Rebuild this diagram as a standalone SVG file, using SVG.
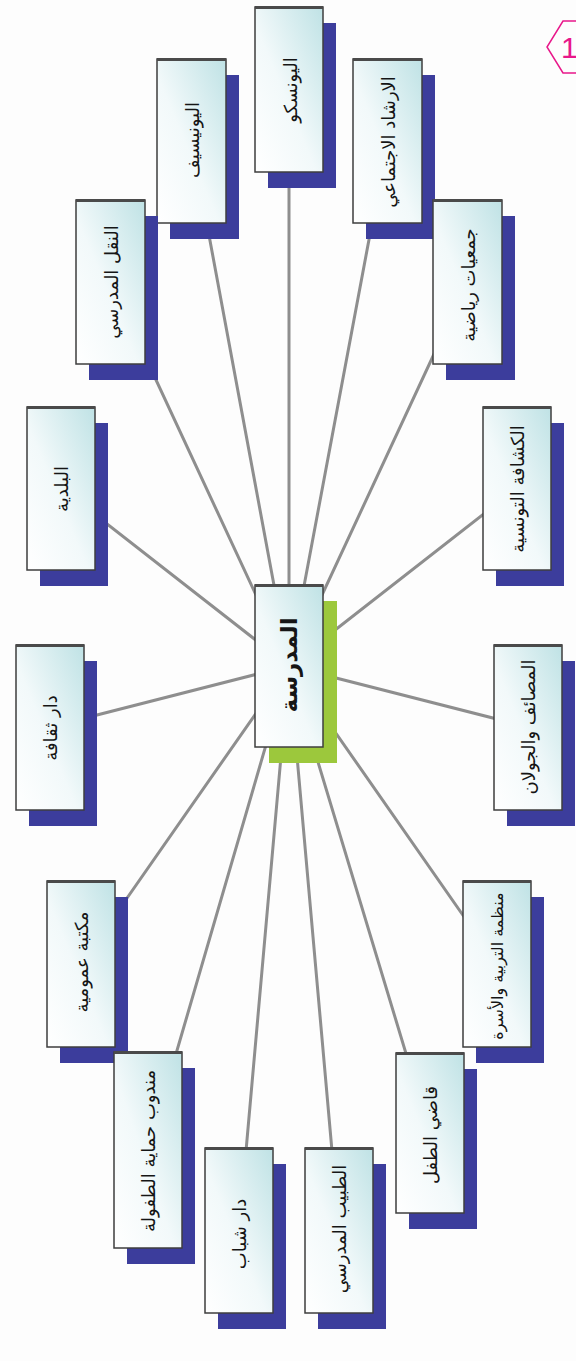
<svg xmlns="http://www.w3.org/2000/svg" width="576" height="1361" viewBox="0 0 576 1361">
<style>
.bg{fill:#fdfdfd}
.ln{stroke:#8e8e8e;stroke-width:3;fill:none;stroke-linecap:round}
.sh{fill:#3c3d9c}
.gsh{fill:#9cc83c}
.bx{fill:url(#bf);stroke:#3e3e3e;stroke-width:1.5}
.tb{fill:#4a4a4a}
.lbl{font-family:"DejaVu Sans","Noto Sans",sans-serif;font-size:18px;fill:#151515;text-anchor:middle;dominant-baseline:central}
.sm{font-size:16px}
.ctr{font-size:23px;font-weight:bold}
.tag{fill:none;stroke:#e8178a;stroke-width:1.5}
.tagt{font-family:"Liberation Sans",Arial,sans-serif;font-size:30px;fill:#e8178a}
</style>
<defs>
<linearGradient id="bf" x1="0" y1="1" x2="1" y2="0">
<stop offset="0" stop-color="#ffffff"/>
<stop offset="0.45" stop-color="#f2f9fa"/>
<stop offset="1" stop-color="#bfe2e5"/>
</linearGradient>
</defs>
<rect class="bg" x="0" y="0" width="576" height="1361"/>
<g id="connectors">
<line class="ln" x1="289" y1="666" x2="289" y2="89"/>
<line class="ln" x1="289" y1="666" x2="387.5" y2="141"/>
<line class="ln" x1="289" y1="666" x2="191.5" y2="141"/>
<line class="ln" x1="289" y1="666" x2="110.5" y2="282"/>
<line class="ln" x1="289" y1="666" x2="467.5" y2="282"/>
<line class="ln" x1="289" y1="666" x2="61" y2="488"/>
<line class="ln" x1="289" y1="666" x2="517" y2="488"/>
<line class="ln" x1="289" y1="666" x2="50" y2="727"/>
<line class="ln" x1="289" y1="666" x2="528" y2="727"/>
<line class="ln" x1="289" y1="666" x2="81" y2="964"/>
<line class="ln" x1="289" y1="666" x2="497" y2="964"/>
<line class="ln" x1="289" y1="666" x2="148" y2="1150"/>
<line class="ln" x1="289" y1="666" x2="430" y2="1133"/>
<line class="ln" x1="289" y1="666" x2="239" y2="1230"/>
<line class="ln" x1="289" y1="666" x2="339" y2="1230"/>
</g>
<g id="n1"><rect class="sh" x="268" y="23" width="68" height="165"/><rect class="bx" x="255" y="7" width="68" height="165"/><rect class="tb" x="255" y="6" width="68" height="3"/><text class="lbl" transform="translate(290,90) rotate(-90)">اليونسكو</text></g>
<g id="n2"><rect class="sh" x="366" y="75" width="69" height="164"/><rect class="bx" x="353" y="59" width="69" height="164"/><rect class="tb" x="353" y="58" width="69" height="3"/><text class="lbl" transform="translate(388,142) rotate(-90)">الارشاد الاجتماعي</text></g>
<g id="n3"><rect class="sh" x="170" y="75" width="69" height="164"/><rect class="bx" x="157" y="59" width="69" height="164"/><rect class="tb" x="157" y="58" width="69" height="3"/><text class="lbl" transform="translate(192,140) rotate(-90)">اليونيسيف</text></g>
<g id="n4"><rect class="sh" x="89" y="216" width="69" height="164"/><rect class="bx" x="76" y="200" width="69" height="164"/><rect class="tb" x="76" y="199" width="69" height="3"/><text class="lbl" transform="translate(111,282) rotate(-90)">النقل المدرسي</text></g>
<g id="n5"><rect class="sh" x="446" y="216" width="69" height="164"/><rect class="bx" x="433" y="200" width="69" height="164"/><rect class="tb" x="433" y="199" width="69" height="3"/><text class="lbl" transform="translate(468,285) rotate(-90)">جمعيات  رياضية</text></g>
<g id="n6"><rect class="sh" x="40" y="423" width="68" height="163"/><rect class="bx" x="27" y="407" width="68" height="163"/><rect class="tb" x="27" y="406" width="68" height="3"/><text class="lbl" transform="translate(61,489) rotate(-90)">البلدية</text></g>
<g id="n7"><rect class="sh" x="496" y="423" width="68" height="163"/><rect class="bx" x="483" y="407" width="68" height="163"/><rect class="tb" x="483" y="406" width="68" height="3"/><text class="lbl" transform="translate(517,489) rotate(-90)">الكشافة التونسية</text></g>
<g id="n8"><rect class="sh" x="29" y="661" width="68" height="165"/><rect class="bx" x="16" y="645" width="68" height="165"/><rect class="tb" x="16" y="644" width="68" height="3"/><text class="lbl" transform="translate(50,728) rotate(-90)">دار ثقافة</text></g>
<g id="n9"><rect class="sh" x="507" y="661" width="68" height="165"/><rect class="bx" x="494" y="645" width="68" height="165"/><rect class="tb" x="494" y="644" width="68" height="3"/><text class="lbl" transform="translate(528,727) rotate(-90)">المصائف والجولان</text></g>
<g id="n10"><rect class="sh" x="60" y="897" width="68" height="166"/><rect class="bx" x="47" y="881" width="68" height="166"/><rect class="tb" x="47" y="880" width="68" height="3"/><text class="lbl" transform="translate(81,962) rotate(-90)">مكتبة عمومية</text></g>
<g id="n11"><rect class="sh" x="476" y="897" width="68" height="166"/><rect class="bx" x="463" y="881" width="68" height="166"/><rect class="tb" x="463" y="880" width="68" height="3"/><text class="lbl sm" transform="translate(497,966) rotate(-90)">منظمة التربية والأسرة</text></g>
<g id="n12"><rect class="sh" x="127" y="1068" width="68" height="196"/><rect class="bx" x="114" y="1052" width="68" height="196"/><rect class="tb" x="114" y="1051" width="68" height="3"/><text class="lbl" transform="translate(148,1151) rotate(-90)">مندوب حماية الطفولة</text></g>
<g id="n13"><rect class="sh" x="409" y="1069" width="68" height="160"/><rect class="bx" x="396" y="1053" width="68" height="160"/><rect class="tb" x="396" y="1052" width="68" height="3"/><text class="lbl" transform="translate(430,1135) rotate(-90)">قاضي الطفل</text></g>
<g id="n14"><rect class="sh" x="218" y="1164" width="68" height="165"/><rect class="bx" x="205" y="1148" width="68" height="165"/><rect class="tb" x="205" y="1147" width="68" height="3"/><text class="lbl" transform="translate(239,1234) rotate(-90)">دار شباب</text></g>
<g id="n15"><rect class="sh" x="318" y="1164" width="68" height="165"/><rect class="bx" x="305" y="1148" width="68" height="165"/><rect class="tb" x="305" y="1147" width="68" height="3"/><text class="lbl" transform="translate(339,1229) rotate(-90)">الطبيب المدرسي</text></g>
<g id="center"><rect class="gsh" x="269" y="601" width="68" height="162"/><rect class="bx" x="255" y="585" width="68" height="162"/><rect class="tb" x="255" y="584" width="68" height="3"/><text class="lbl ctr" transform="translate(289,665) rotate(-90)">المدرسة</text></g>
<g id="tag"><path class="tag" d="M578 21 L563 21 L547 47 L563 73 L578 73"/><text class="tagt" x="561" y="58">1</text></g>
</svg>
